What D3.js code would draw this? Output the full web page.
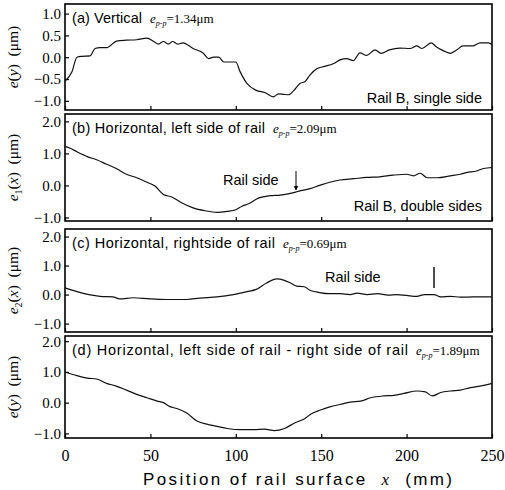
<!DOCTYPE html>
<html>
<head>
<meta charset="utf-8">
<script src="https://cdn.jsdelivr.net/npm/d3@7"></script>
<style>
  body { margin: 0; background: #fff; }
  svg { display: block; }
</style>
</head>
<body>
<div id="plot"></div>
<script>
// x positions (mm) and errors (um)
var xTicks = [0, 50, 100, 150, 200, 250];

var aX = [0, 4, 7, 10, 14.6, 17.6, 20.5, 24.4, 30.2, 36, 42, 48, 52, 54.7, 57.6, 60.5, 63, 66, 69, 75, 81, 84, 87, 90, 93, 97, 100, 102.5, 106.5, 112, 117, 122, 125, 128, 131, 134, 137.6, 140.5, 143.4, 147.6, 152, 157, 161, 165, 168.8, 172.7, 176.6, 181.5, 185, 190, 196, 202, 206, 209, 214.4, 217.3, 222, 225.6, 229.5, 233, 239, 243, 248, 250];
var aV = [-0.55, -0.34, 0.0, 0.02, 0.03, 0.2, 0.22, 0.22, 0.37, 0.39, 0.4, 0.44, 0.36, 0.3, 0.36, 0.3, 0.36, 0.3, 0.33, 0.2, 0.09, -0.03, 0.0, 0.0, -0.11, -0.11, -0.11, -0.33, -0.6, -0.76, -0.81, -0.91, -0.84, -0.85, -0.86, -0.76, -0.6, -0.56, -0.41, -0.26, -0.21, -0.15, -0.06, -0.03, -0.08, 0.1, 0.04, 0.17, 0.09, 0.17, 0.21, 0.2, 0.26, 0.2, 0.33, 0.24, 0.14, 0.09, 0.17, 0.26, 0.26, 0.33, 0.33, 0.29];

var bX = [0, 3, 7, 13, 18.5, 24.4, 30, 36, 42, 48, 52.7, 57.6, 62.5, 68, 75, 82, 89, 95, 100, 103.6, 107.5, 113.5, 120, 126, 132, 137, 143.4, 149, 155, 161, 169, 176.6, 184.4, 192, 200, 204, 208, 212, 218, 225.6, 231.5, 235, 241, 245, 250];
var bV = [1.22, 1.16, 1.05, 0.9, 0.8, 0.66, 0.53, 0.35, 0.24, 0.1, -0.02, -0.28, -0.36, -0.53, -0.7, -0.79, -0.84, -0.81, -0.76, -0.65, -0.57, -0.39, -0.32, -0.3, -0.25, -0.18, -0.1, 0.0, 0.1, 0.17, 0.21, 0.25, 0.27, 0.32, 0.35, 0.3, 0.38, 0.24, 0.24, 0.3, 0.35, 0.4, 0.45, 0.53, 0.56];

var cX = [0, 7, 14, 20.5, 28, 32, 40, 49.8, 59.6, 71.3, 79, 89, 98.6, 106.5, 112, 118, 124, 128, 132, 135.6, 140, 143.4, 149, 155, 161, 167, 171, 177, 183, 189, 194.5, 200, 206, 210.5, 216, 220, 225.6, 231.5, 239, 250];
var cV = [0.23, 0.1, 0.0, -0.06, -0.08, -0.15, -0.11, -0.15, -0.17, -0.17, -0.12, -0.08, 0.0, 0.1, 0.18, 0.4, 0.54, 0.5, 0.4, 0.29, 0.27, 0.15, 0.07, 0.03, 0.03, 0.0, 0.05, 0.0, 0.03, -0.02, 0.0, -0.03, -0.06, 0.0, 0.0, -0.08, -0.06, -0.09, -0.08, -0.08];

var dX = [0, 7, 13, 18.5, 24.4, 30, 36, 42, 48, 54, 57.6, 61.5, 65.5, 71.3, 77, 83, 89, 95, 103, 110.8, 116.7, 122.6, 128.5, 134.4, 140.3, 144, 149.6, 155.5, 161, 167, 173, 179, 186.6, 192.6, 198.5, 206, 211, 215, 220, 225.6, 231.5, 237.4, 243, 250];
var dV = [1.0, 0.88, 0.8, 0.77, 0.63, 0.54, 0.41, 0.27, 0.16, 0.05, 0.0, -0.13, -0.19, -0.34, -0.59, -0.7, -0.77, -0.84, -0.88, -0.88, -0.86, -0.91, -0.84, -0.66, -0.52, -0.37, -0.24, -0.13, -0.06, 0.02, 0.05, 0.16, 0.22, 0.24, 0.3, 0.38, 0.35, 0.22, 0.33, 0.38, 0.41, 0.49, 0.54, 0.63];

var aTicks = [1.0, 0.5, 0.0, -0.5, -1.0];
var bTicks = [2.0, 1.0, 0.0, -1.0];

var titles = ["(a) Vertical", "(b) Horizontal, left side of rail", "(c) Horizontal, rightside of rail", "(d) Horizontal, left side of rail - right side of rail"];
var ppValues = ["1.34", "2.09", "0.69", "1.89"];
var ySubs = ["", "1", "2", ""];
var yVars = ["y", "x", "x", "y"];

var W = 505, H = 490;
var left = 65, right = 492;

var panels = [
  {top: 4,   bottom: 110, y0: -1.21, y1: 1.22, ticks: aTicks, xs: aX, vs: aV, tw: 70},
  {top: 114, bottom: 221, y0: -1.11, y1: 2.23, ticks: bTicks, xs: bX, vs: bV, tw: 193},
  {top: 229, bottom: 332, y0: -1.29, y1: 2.26, ticks: bTicks, xs: cX, vs: cV, tw: 203},
  {top: 336, bottom: 438, y0: -1.15, y1: 2.17, ticks: bTicks, xs: dX, vs: dV, tw: 336}
];

var svg = d3.select("#plot").append("svg")
    .attr("width", W)
    .attr("height", H);

var x = d3.scaleLinear().domain([0, 250]).range([left, right]);

var sans = "'Liberation Sans', Arial, sans-serif";
var serif = "'Liberation Serif', 'Times New Roman', serif";

panels.forEach(function(p, i) {
  var y = d3.scaleLinear().domain([p.y0, p.y1]).range([p.bottom, p.top]);
  var g = svg.append("g");

  // y axis with inward ticks
  g.append("g")
      .attr("transform", "translate(" + left + ",0)")
      .call(d3.axisLeft(y).tickValues(p.ticks).tickSize(-4).tickPadding(4).tickFormat(d3.format(".1f")))
      .call(function(a) {
        a.attr("font-family", serif);
        a.select(".domain").remove();
        a.selectAll("line").attr("stroke", "#000").attr("stroke-width", 1.2);
        a.selectAll("text").attr("font-size", 15).attr("fill", "#000");
      });

  // x axis with inward ticks on the bottom of every panel
  var xa = g.append("g")
      .attr("transform", "translate(0," + p.bottom + ")")
      .call(d3.axisBottom(x).tickValues(xTicks).tickSize(-4).tickPadding(12));
  xa.attr("font-family", serif);
  xa.select(".domain").remove();
  xa.selectAll("line").attr("stroke", "#000").attr("stroke-width", 1.2);
  xa.selectAll("text").attr("font-size", 16).attr("fill", "#000");
  if (i < 3) xa.selectAll("text").remove();

  // frame
  g.append("rect")
      .attr("x", left)
      .attr("y", p.top)
      .attr("width", right - left)
      .attr("height", p.bottom - p.top)
      .attr("fill", "none")
      .attr("stroke", "#000")
      .attr("stroke-width", 1.6);

  // the curve
  var pts = p.xs.map(function(d, k) { return [d, p.vs[k]]; });
  g.append("path")
      .datum(pts)
      .attr("fill", "none")
      .attr("stroke", "#111")
      .attr("stroke-width", 1.2)
      .attr("d", d3.line()
          .x(function(d) { return x(d[0]); })
          .y(function(d) { return y(d[1]); })
          .curve(d3.curveMonotoneX));

  // panel title
  g.append("text")
      .attr("x", 72)
      .attr("y", p.top + 19)
      .attr("font-family", sans)
      .attr("font-size", 14.5)
      .attr("fill", "#000")
      .attr("textLength", p.tw)
      .attr("lengthAdjust", "spacing")
      .text(titles[i]);
  var pp = g.append("text")
      .attr("x", 72 + p.tw + 8)
      .attr("y", p.top + 19)
      .attr("font-family", serif)
      .attr("font-size", 13)
      .attr("fill", "#000");
  pp.append("tspan").attr("font-style", "italic").text("e");
  pp.append("tspan").attr("font-size", 8).attr("dy", 3).attr("font-style", "italic").text("p-p");
  pp.append("tspan").attr("dy", -3).text("=" + ppValues[i] + "\u03bcm");

  // y axis title
  var yt = svg.append("text")
      .attr("transform", "translate(18," + ((p.top + p.bottom) / 2) + ") rotate(-90)")
      .attr("text-anchor", "middle")
      .attr("font-family", serif)
      .attr("font-size", 15.5)
      .attr("fill", "#000");
  yt.append("tspan").attr("font-style", "italic").text("e");
  if (ySubs[i]) yt.append("tspan").attr("font-size", 10).attr("dy", 4).text(ySubs[i]);
  yt.append("tspan").attr("dy", ySubs[i] ? -4 : 0).text("(");
  yt.append("tspan").attr("font-style", "italic").text(yVars[i]);
  yt.append("tspan").text(")\u00a0\u00a0(\u03bcm)");
});

// notes inside panels
function note(txt, px, py, anchor) {
  svg.append("text")
      .attr("x", px).attr("y", py)
      .attr("text-anchor", anchor || "start")
      .attr("font-family", sans)
      .attr("font-size", 14.5)
      .attr("fill", "#000")
      .text(txt);
}
note("Rail B, single side", 482, 103, "end");
note("Rail B, double sides", 482, 211, "end");
note("Rail side", 223, 185);
note("Rail side", 325, 282);

// arrow in (b)
svg.append("defs").append("marker")
    .attr("id", "arr")
    .attr("viewBox", "0 0 10 10")
    .attr("refX", 9).attr("refY", 5)
    .attr("markerWidth", 5).attr("markerHeight", 6)
    .attr("orient", "auto")
  .append("path")
    .attr("d", "M0,0L10,5L0,10z")
    .attr("fill", "#000");
svg.append("line")
    .attr("x1", 296).attr("y1", 171)
    .attr("x2", 296).attr("y2", 190)
    .attr("stroke", "#000").attr("stroke-width", 1)
    .attr("marker-end", "url(#arr)");

// mark in (c)
svg.append("line")
    .attr("x1", 434).attr("y1", 267)
    .attr("x2", 434).attr("y2", 288)
    .attr("stroke", "#000").attr("stroke-width", 1.4);

// x axis title
var xt = svg.append("text")
    .attr("x", 143)
    .attr("y", 485)
    .attr("font-family", sans)
    .attr("font-size", 17)
    .attr("textLength", 309)
    .attr("lengthAdjust", "spacing")
    .attr("fill", "#000");
xt.append("tspan").text("Position of rail surface ");
xt.append("tspan").attr("font-family", serif).attr("font-style", "italic").text("\u00a0x\u00a0");
xt.append("tspan").text(" (mm)");
</script>
</body>
</html>
